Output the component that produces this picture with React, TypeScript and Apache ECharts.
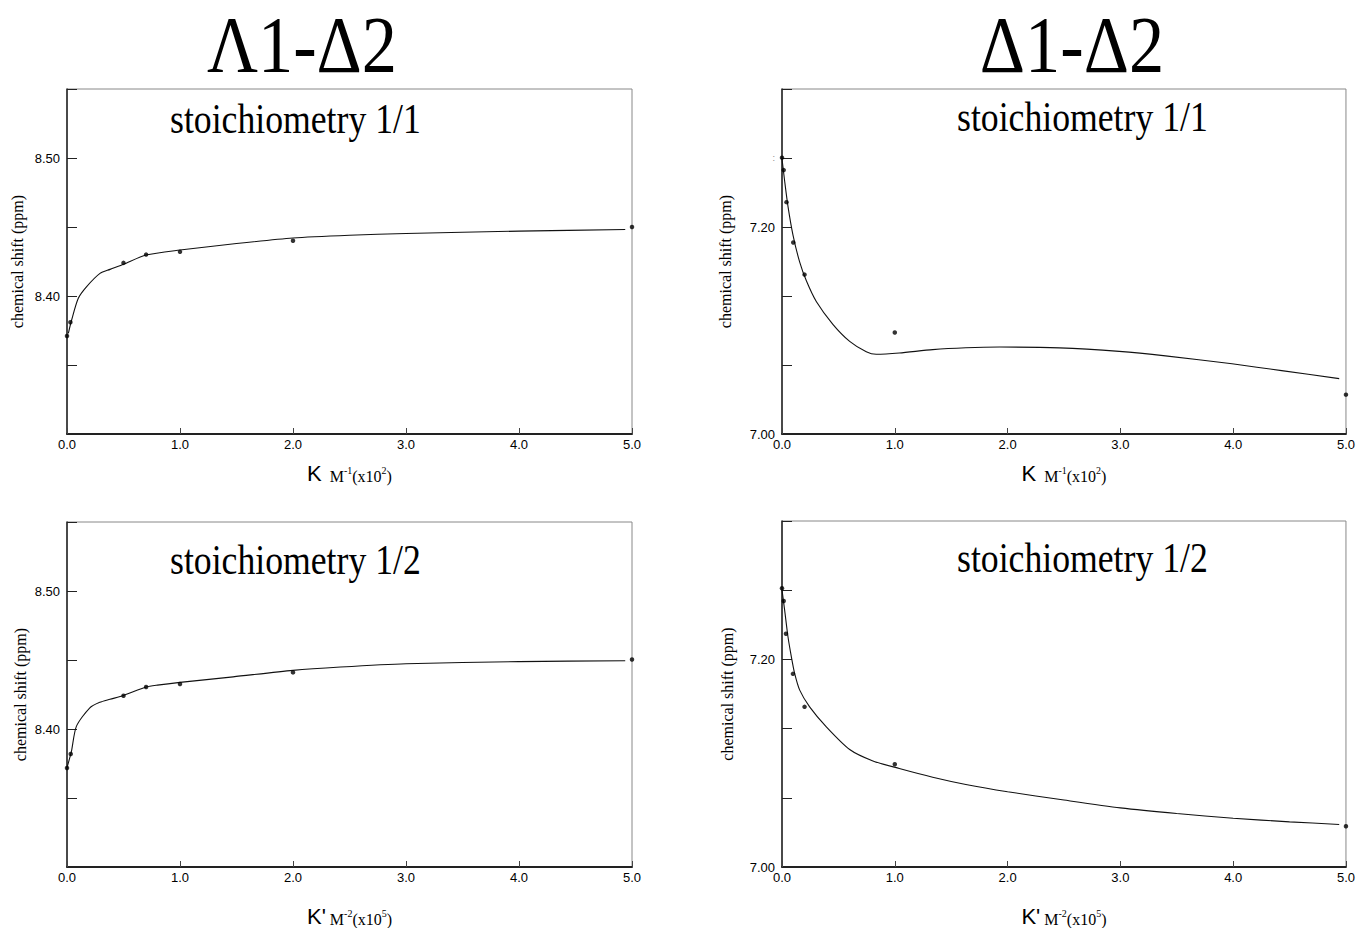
import React, { useEffect, useRef } from 'react';
import * as echarts from 'echarts';

// ---------- data ----------
const xTickLabels = ['0.0', '1.0', '2.0', '3.0', '4.0', '5.0'];

// Λ1-Δ2, stoichiometry 1/1
const tlPointX = [0, 0.03, 0.5, 0.7, 1.0, 2.0, 5.0];
const tlPointY = [8.371, 8.381, 8.424, 8.430, 8.432, 8.440, 8.450];
const tlCurveX = [0.012, 0.041, 0.1, 0.174, 0.292, 0.381, 0.5, 0.7, 1.0, 1.5, 2.0, 2.5, 3.0, 4.0, 4.94];
const tlCurveY = [8.373, 8.3826, 8.3983, 8.4068, 8.4164, 8.4193, 8.423, 8.4297, 8.4333, 8.438, 8.442, 8.444, 8.4453, 8.447, 8.4482];

// Δ1-Δ2, stoichiometry 1/1
const trPointX = [0, 0.015, 0.04, 0.1, 0.2, 1.0, 5.0];
const trPointY = [7.267, 7.255, 7.224, 7.185, 7.154, 7.098, 7.038];
const trCurveX = [0.0, 0.024, 0.053, 0.098, 0.157, 0.216, 0.304, 0.451, 0.6, 0.747, 0.835, 1.04, 1.336, 1.63, 1.93, 2.46, 2.99, 3.4, 3.99, 4.43, 4.94];
const trCurveY = [7.266, 7.244, 7.22, 7.192, 7.166, 7.148, 7.128, 7.106, 7.0895, 7.0795, 7.077, 7.0782, 7.0815, 7.0833, 7.084, 7.0832, 7.0798, 7.0755, 7.0678, 7.0612, 7.0535];

// Λ1-Δ2, stoichiometry 1/2
const blPointX = [0, 0.033, 0.5, 0.7, 1.0, 2.0, 5.0];
const blPointY = [8.3717, 8.3819, 8.4241, 8.4304, 8.4326, 8.441, 8.4504];
const blCurveX = [0.0, 0.039, 0.083, 0.2, 0.29, 0.38, 0.5, 0.7, 0.8, 1.0, 1.47, 2.0, 2.42, 3.0, 4.0, 4.94];
const blCurveY = [8.372, 8.3838, 8.4019, 8.4152, 8.4193, 8.4215, 8.4243, 8.4304, 8.4318, 8.4338, 8.4378, 8.4425, 8.4449, 8.4473, 8.4488, 8.4495];

// Δ1-Δ2, stoichiometry 1/2
const brPointX = [0, 0.015, 0.035, 0.097, 0.2, 1.0, 5.0];
const brPointY = [7.2685, 7.2562, 7.2247, 7.1861, 7.1543, 7.099, 7.0392];
const brCurveX = [0.0, 0.024, 0.053, 0.083, 0.112, 0.157, 0.245, 0.393, 0.6, 0.806, 1.04, 1.336, 1.63, 2.0, 2.5, 3.0, 3.5, 4.0, 4.5, 4.94];
const brCurveY = [7.267, 7.247, 7.2218, 7.2025, 7.1865, 7.1704, 7.1543, 7.135, 7.1132, 7.1022, 7.0949, 7.0865, 7.0795, 7.0725, 7.0645, 7.057, 7.0515, 7.047, 7.0435, 7.041];

// y tick labels
const leftYLabels: Record<string, string> = { '8.40': '8.40', '8.50': '8.50' };
const topRightYLabels: Record<string, string> = { '7.00': '7.00', '7.20': '7.20', '7.27': '{dot|:}' };
const bottomRightYLabels: Record<string, string> = { '7.00': '7.00', '7.20': '7.20' };

const panelTitles = ['Λ1-Δ2', 'Δ1-Δ2'];
const subTitles = ['stoichiometry 1/1', 'stoichiometry 1/1', 'stoichiometry 1/2', 'stoichiometry 1/2'];
const yName = 'chemical shift (ppm)';
const xNameTop = '{k|K}{m|  M}{s|-1}{m|(x10}{s|2}{m|)}';
const xNameBottom = "{k|K'}{m| M}{s|-2}{m|(x10}{s|5}{m|)}";

const zip = (xs: number[], ys: number[]) => xs.map((x, i) => [x, ys[i]]);

const serif = '"Liberation Serif", "Times New Roman", serif';
const sans = '"Liberation Sans", Arial, sans-serif';

function makeX(gridIndex: number, name: string, nameGap: number) {
  return {
    type: 'value',
    gridIndex,
    min: 0,
    max: 5,
    interval: 1,
    name,
    nameLocation: 'middle',
    nameGap,
    nameTextStyle: {
      rich: {
        k: { fontFamily: sans, fontSize: 22, color: '#000', verticalAlign: 'bottom', lineHeight: 24 },
        m: { fontFamily: serif, fontSize: 16, color: '#000', verticalAlign: 'bottom', lineHeight: 22 },
        s: { fontFamily: serif, fontSize: 10, color: '#000', verticalAlign: 'bottom', lineHeight: 12, padding: [0, 0, 9, 0] },
      },
    },
    axisLine: { show: true, onZero: false, lineStyle: { color: '#222', width: 2 } },
    axisTick: { show: true, inside: true, length: 6, lineStyle: { color: '#444', width: 1 } },
    axisLabel: {
      formatter: (v: number) => xTickLabels[Math.round(v)] ?? '',
      fontFamily: sans,
      fontSize: 13,
      color: '#000',
      margin: 4,
    },
    splitLine: { show: false },
  };
}

function makeY(gridIndex: number, min: number, max: number, interval: number, labels: Record<string, string>, nameGap: number) {
  return {
    type: 'value',
    gridIndex,
    min,
    max,
    interval,
    name: yName,
    nameLocation: 'middle',
    nameGap,
    nameTextStyle: { fontFamily: serif, fontSize: 16, color: '#000' },
    axisLine: { show: true, onZero: false, lineStyle: { color: '#222', width: 1.5 } },
    axisTick: { show: true, inside: true, length: 10, lineStyle: { color: '#222', width: 1 } },
    axisLabel: {
      formatter: (v: number) => labels[v.toFixed(2)] ?? '',
      fontFamily: sans,
      fontSize: 13,
      color: '#000',
      margin: 7,
      showMinLabel: true,
      showMaxLabel: true,
      rich: { dot: { fontSize: 9, color: '#888', fontFamily: sans } },
    },
    splitLine: { show: false },
  };
}

function curve(i: number, xs: number[], ys: number[]) {
  return {
    type: 'line',
    xAxisIndex: i,
    yAxisIndex: i,
    data: zip(xs, ys),
    showSymbol: false,
    symbol: 'none',
    smooth: 0.25,
    lineStyle: { color: '#111', width: 1.1 },
    z: 2,
  };
}

function points(i: number, xs: number[], ys: number[]) {
  return {
    type: 'scatter',
    xAxisIndex: i,
    yAxisIndex: i,
    data: zip(xs, ys),
    symbol: 'circle',
    symbolSize: 4.5,
    itemStyle: { color: '#000' },
    z: 3,
  };
}

const rightMax = 7 + 5 / 15;

const titleStyle = { fontFamily: serif, fontSize: 80, fill: '#000', align: 'center', verticalAlign: 'middle' };
const subStyle = { fontFamily: serif, fontSize: 42, fill: '#000', align: 'left', verticalAlign: 'middle' };

const option: any = {
  animation: false,
  backgroundColor: '#fff',
  grid: [
    { left: 67, top: 89, width: 565, height: 345, show: true, borderColor: '#888', borderWidth: 1 },
    { left: 782, top: 89, width: 565, height: 345, show: true, borderColor: '#888', borderWidth: 1 },
    { left: 67, top: 522, width: 565, height: 345, show: true, borderColor: '#888', borderWidth: 1 },
    { left: 782, top: 521, width: 565, height: 346, show: true, borderColor: '#888', borderWidth: 1 },
  ],
  xAxis: [
    makeX(0, xNameTop, 26),
    makeX(1, xNameTop, 26),
    makeX(2, xNameBottom, 36),
    makeX(3, xNameBottom, 36),
  ],
  yAxis: [
    makeY(0, 8.3, 8.55, 0.05, leftYLabels, 42),
    makeY(1, 7.0, rightMax, 1 / 15, topRightYLabels, 49),
    makeY(2, 8.3, 8.55, 0.05, leftYLabels, 39),
    makeY(3, 7.0, rightMax, 1 / 15, bottomRightYLabels, 47),
  ],
  series: [
    curve(0, tlCurveX, tlCurveY),
    points(0, tlPointX, tlPointY),
    curve(1, trCurveX, trCurveY),
    points(1, trPointX, trPointY),
    curve(2, blCurveX, blCurveY),
    points(2, blPointX, blPointY),
    curve(3, brCurveX, brCurveY),
    points(3, brPointX, brPointY),
  ],
  graphic: [
    { type: 'text', x: 302, y: 44.5, scaleX: 0.88, style: { text: panelTitles[0], ...titleStyle } },
    { type: 'text', x: 1072, y: 44.5, scaleX: 0.88, style: { text: panelTitles[1], ...titleStyle } },
    { type: 'text', x: 170, y: 118, scaleX: 0.85, style: { text: subTitles[0], ...subStyle } },
    { type: 'text', x: 957, y: 116, scaleX: 0.85, style: { text: subTitles[1], ...subStyle } },
    { type: 'text', x: 170, y: 559, scaleX: 0.85, style: { text: subTitles[2], ...subStyle } },
    { type: 'text', x: 957, y: 557, scaleX: 0.85, style: { text: subTitles[3], ...subStyle } },
  ],
};

export default function App() {
  const ref = useRef<HTMLDivElement>(null);
  useEffect(() => {
    if (!ref.current) return;
    const chart = echarts.init(ref.current, null, { renderer: 'svg' });
    chart.setOption(option);
    return () => chart.dispose();
  }, []);
  return (
    <div
      ref={ref}
      style={{ position: 'fixed', left: 0, top: 0, width: 1358, height: 928, background: '#fff' }}
    />
  );
}
